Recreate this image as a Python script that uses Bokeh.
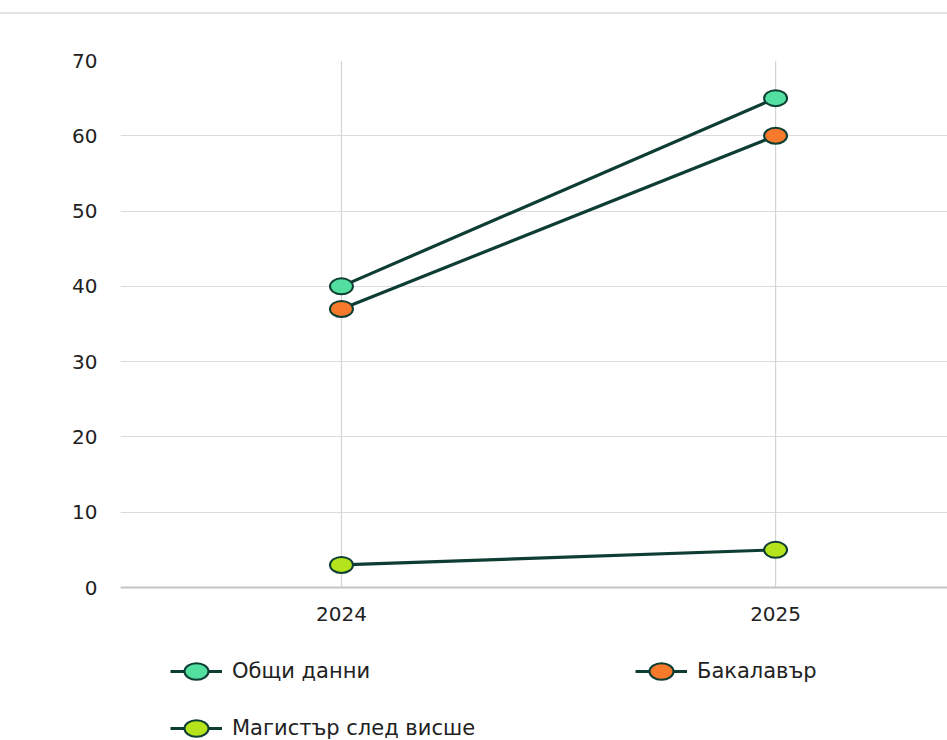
from bokeh.plotting import figure
from bokeh.models import (Range1d, FixedTicker, Legend, LegendItem, Div,
                          ColumnDataSource, Span, LabelSet)
from bokeh.core.properties import value
from bokeh.layouts import column
from bokeh.embed import file_html
from bokeh.resources import INLINE

years = ["2024", "2025"]
series_names = ["Общи данни", "Бакалавър", "Магистър след висше"]
obshti = [40, 65]
bakalavar = [37, 60]
magistar = [3, 5]
y_ticks = [0, 10, 20, 30, 40, 50, 60, 70]
marker_colors = ["#52df9f", "#f7792b", "#b5e31c"]
line_color = "#0e3d33"
FONT = "DejaVu Sans"

xpos = list(range(len(years)))

# frame extends below the zero line to hold the legend
p = figure(width=947, height=726, output_backend="svg", toolbar_location=None,
           x_range=Range1d(-0.509, 1.396), y_range=Range1d(-20.32, 70),
           min_border_left=120, min_border_right=0, min_border_top=46,
           min_border_bottom=0, x_axis_location=None)
p.outline_line_color = None

p.yaxis.ticker = FixedTicker(ticks=y_ticks)
p.yaxis.major_tick_line_color = None
p.yaxis.minor_tick_line_color = None
p.yaxis.major_label_text_font = FONT
p.yaxis.major_label_text_font_size = "20px"
p.yaxis.major_label_text_color = "#222222"
p.yaxis.axis_line_color = None
p.yaxis.major_label_standoff = 17

p.xgrid.visible = False
p.ygrid.ticker = FixedTicker(ticks=y_ticks)
p.ygrid.grid_line_color = "#dcdcdc"
p.ygrid.grid_line_width = 1.2

# vertical category lines spanning the value axis
vsrc = ColumnDataSource(dict(x=xpos, y0=[y_ticks[0]] * len(xpos),
                             y1=[y_ticks[-1]] * len(xpos), year=years))
p.segment("x", "y0", "x", "y1", source=vsrc, line_color="#d4d4d4", line_width=1.2)

# baseline
p.add_layout(Span(location=y_ticks[0], dimension="width", line_color="#c4c4c4",
                  line_width=2))

# category labels
p.add_layout(LabelSet(x="x", y="y0", text="year", source=vsrc, y_offset=-26,
                      text_align="center", text_baseline="middle",
                      text_font=value(FONT), text_font_size=value("20px"),
                      text_color=value("#222222")))

items = []
for name, vals, col in zip(series_names, [obshti, bakalavar, magistar], marker_colors):
    src = ColumnDataSource(dict(x=xpos, y=vals))
    r_line = p.line("x", "y", source=src, line_color=line_color, line_width=3.2)
    r_pt = p.ellipse("x", "y", width=23, height=16, width_units="screen",
                     height_units="screen", source=src, fill_color=col,
                     line_color=line_color, line_width=2)
    items.append(LegendItem(label=name, renderers=[r_line, r_pt]))

legend = Legend(items=items, ncols=2, orientation="horizontal",
                location=(50, -3), margin=0, padding=0,
                glyph_width=52, glyph_height=30, label_standoff=10,
                label_width=376, label_height=30, spacing=27,
                label_text_font=FONT, label_text_font_size="21px",
                label_text_color="#222222",
                border_line_color=None, background_fill_alpha=0)
p.add_layout(legend, "center")

top_line = Div(width=947, height=2, margin=(12, 0, 0, 0),
               styles={"background-color": "#e4e4e4"})

layout = column(top_line, p, spacing=0)
open("out.html", "w").write(file_html(layout, INLINE))
